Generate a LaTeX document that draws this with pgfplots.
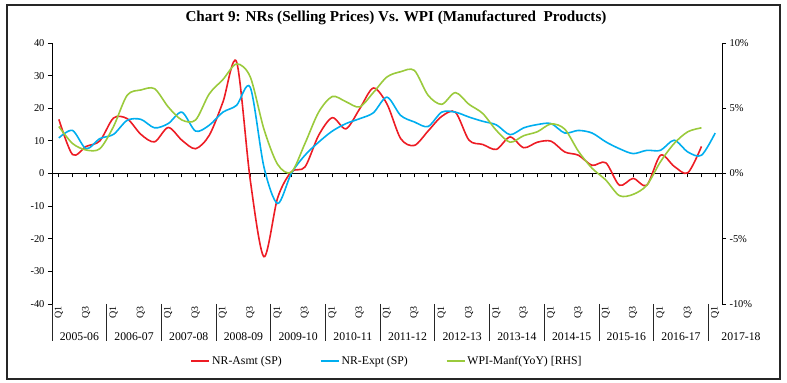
\documentclass[border=0pt]{standalone}
\usepackage{pgfplots}
\pgfplotsset{compat=1.18}
\usepackage{fontspec}
\setmainfont{Liberation Serif}
\definecolor{cred}{RGB}{237,28,36}
\definecolor{cblue}{RGB}{0,174,239}
\definecolor{cgreen}{RGB}{154,202,60}

\pgfplotstableread{
i v
0 16.6
1 5.8
2 8.3
3 10.0
4 17.0
5 16.8
6 12.0
7 9.7
8 14.1
9 10.2
10 7.6
11 11.7
12 21.9
13 34.2
14 -2.0
15 -25.5
16 -7.5
17 0.5
18 2.0
19 11.7
20 17.1
21 13.7
22 19.8
23 26.2
24 21.3
25 10.7
26 8.6
27 13.0
28 17.5
29 18.8
30 10.2
31 8.9
32 7.4
33 11.2
34 7.9
35 9.6
36 9.9
37 6.6
38 5.6
39 2.5
40 3.3
41 -3.6
42 -1.5
43 -3.6
44 5.6
45 2.2
46 0.2
47 8.3
}\asmt

\pgfplotstableread{
i v
0 10.9
1 13.2
2 7.6
3 10.7
4 12.0
5 16.3
6 16.6
7 14.0
8 15.3
9 18.8
10 13.0
11 14.8
12 18.8
13 20.9
14 26.4
15 2.0
16 -9.2
17 0.0
18 5.6
19 9.6
20 13.0
21 15.3
22 16.8
23 18.6
24 23.4
25 17.8
26 15.8
27 14.4
28 18.8
29 18.8
30 17.3
31 16.0
32 14.9
33 11.9
34 14.0
35 15.0
36 15.3
37 12.4
38 13.2
39 12.4
40 9.7
41 7.6
42 6.1
43 7.1
44 7.1
45 10.2
46 6.6
47 5.6
48 12.4
}\expt

\pgfplotstableread{
i v
0 3.6
1 2.3
2 1.8
3 1.9
4 3.6
5 6.0
6 6.4
7 6.5
8 5.1
9 4.1
10 4.1
11 6.1
12 7.2
13 8.4
14 7.4
15 3.4
16 0.7
17 0.1
18 2.3
19 4.7
20 5.9
21 5.5
22 5.1
23 6.2
24 7.4
25 7.8
26 7.9
27 6.0
28 5.3
29 6.2
30 5.3
31 4.6
32 3.3
33 2.4
34 2.9
35 3.2
36 3.8
37 3.4
38 1.7
39 0.4
40 -0.5
41 -1.7
42 -1.6
43 -0.9
44 0.9
45 2.3
46 3.2
47 3.5
}\wpi

\begin{document}
\begin{tikzpicture}
\useasboundingbox (0bp,0bp) rectangle (787bp,383bp);
\draw[line width=1.1bp, black!85] (7bp,4bp) rectangle (780bp,378bp);
\node[font=\fontsize{15.2}{17}\selectfont\bfseries] at (396bp,365bp) {Chart 9: NRs (Selling Prices) Vs. WPI (Manufactured\ \ Products)};

\begin{axis}[
  at={(52bp,79bp)}, anchor=south west,
  scale only axis, width=670bp, height=261bp,
  xmin=-0.5, xmax=48.5, ymin=-40, ymax=40,
  axis x line*=middle, axis y line*=left,
  every inner x axis line/.append style={-},
  x axis line style={-}, y axis line style={-},
  xtick={0,...,48}, xticklabels={},
  ytick={-40,-30,-20,-10,0,10,20,30,40},
  yticklabels={-40,-30,-20,-10,0,10,20,30,40},
  tick align=outside, major tick length=4bp,
  tick style={black, line width=0.8bp},
  axis line style={black, line width=0.8bp},
  yticklabel style={font=\fontsize{10.5}{12}\selectfont},
]
\addplot[cred, line width=1.6bp, smooth, tension=0.5] table[x=i,y=v] {\asmt};
\addplot[cblue, line width=1.6bp, smooth, tension=0.5] table[x=i,y=v] {\expt};
\end{axis}

\begin{axis}[
  at={(52bp,79bp)}, anchor=south west,
  scale only axis, width=670bp, height=261bp,
  xmin=-0.5, xmax=48.5, ymin=-10, ymax=10,
  axis x line=none, axis y line*=right,
  y axis line style={-},
  ytick={-10,-5,0,5,10},
  yticklabels={-10\%,-5\%,0\%,5\%,10\%},
  tick align=outside, major tick length=4bp,
  tick style={black, line width=0.8bp},
  axis line style={black, line width=0.8bp},
  yticklabel style={font=\fontsize{10.5}{12}\selectfont},
  legend columns=3,
  legend style={at={(0.5,-0.218)}, anchor=center, draw=none, fill=none,
    font=\fontsize{11.8}{13}\selectfont,
    /tikz/every even column/.append style={column sep=36bp}},
  legend image code/.code={\draw[#1] (0bp,0bp) -- (18bp,0bp);},
]
\addlegendimage{cred, line width=1.8bp}
\addlegendentry{NR-Asmt (SP)}
\addlegendimage{cblue, line width=1.8bp}
\addlegendentry{NR-Expt (SP)}
\addplot[cgreen, line width=1.6bp, smooth, tension=0.5] table[x=i,y=v] {\wpi};
\addlegendentry{WPI-Manf(YoY) [RHS]}
\end{axis}

\foreach \k in {0,...,12} {
  \pgfmathsetmacro\xx{52+\k*54.69388}
  \draw[black!85, line width=0.8bp] (\xx bp,79bp) -- (\xx bp,42bp);
  \pgfmathsetmacro\xq{58.83673+\k*54.69388}
  \node[rotate=90, anchor=east, inner sep=0pt, font=\fontsize{10}{11}\selectfont] at (\xq bp,77bp) {Q1};
}
\foreach \k in {0,...,11} {
  \pgfmathsetmacro\xq{86.18367+\k*54.69388}
  \node[rotate=90, anchor=east, inner sep=0pt, font=\fontsize{10}{11}\selectfont] at (\xq bp,77bp) {Q3};
}
\foreach \k/\lab in {0/2005-06,1/2006-07,2/2007-08,3/2008-09,4/2009-10,5/2010-11,6/2011-12,7/2012-13,8/2013-14,9/2014-15,10/2015-16,11/2016-17} {
  \pgfmathsetmacro\xy{79.34694+\k*54.69388}
  \node[font=\fontsize{11.8}{13}\selectfont] at (\xy bp,46bp) {\lab};
}
\node[font=\fontsize{11.8}{13}\selectfont] at (741bp,46bp) {2017-18};
\end{tikzpicture}
\end{document}
